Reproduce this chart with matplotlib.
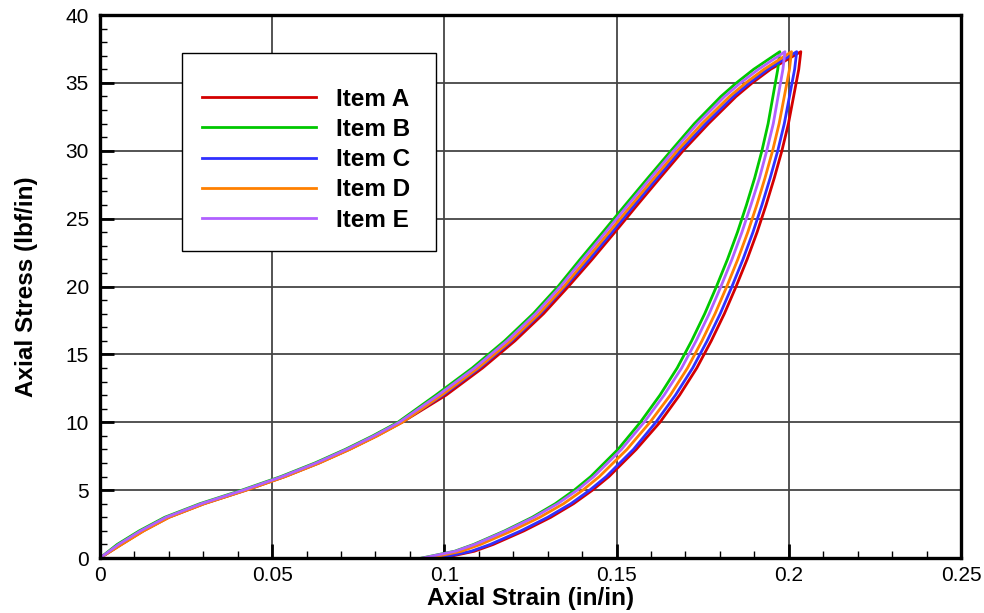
import numpy as np
import matplotlib
matplotlib.use("Agg")
import matplotlib.pyplot as plt
from matplotlib.ticker import MultipleLocator, FormatStrFormatter
from matplotlib.patches import Rectangle

plt.rcParams['font.family'] = ['Liberation Sans', 'DejaVu Sans']

labels = ["Item A", "Item B", "Item C", "Item D", "Item E"]
colors = ["#d40000", "#00c800", "#3030ff", "#ff8000", "#b060ff"]

# loading branch: shared stress levels (lbf/in), strain per item (in/in)
load_stress = [0, 1, 2, 3, 4, 5, 6, 7, 8, 9, 10, 12, 14, 16, 18, 20, 22, 24,
               26, 28, 30, 32, 34, 35, 36, 37.3]
load_a = [0, 0.0062, 0.0126, 0.0200, 0.0302, 0.0424, 0.0537, 0.0636, 0.0724,
          0.0804, 0.0877, 0.1005, 0.1111, 0.1205, 0.1288, 0.1360, 0.1429,
          0.1495, 0.1560, 0.1626, 0.1693, 0.1767, 0.1847, 0.1894, 0.1947, 0.2035]
load_b = [0, 0.0050, 0.0114, 0.0188, 0.0290, 0.0412, 0.0525, 0.0624, 0.0712,
          0.0792, 0.0865, 0.0975, 0.1081, 0.1175, 0.1258, 0.1330, 0.1394,
          0.1460, 0.1525, 0.1591, 0.1658, 0.1726, 0.1803, 0.1848, 0.1898, 0.1974]
load_c = [0, 0.0060, 0.0124, 0.0198, 0.0300, 0.0422, 0.0535, 0.0634, 0.0722,
          0.0802, 0.0875, 0.0996, 0.1102, 0.1196, 0.1279, 0.1351, 0.1421,
          0.1487, 0.1552, 0.1618, 0.1685, 0.1759, 0.1839, 0.1886, 0.1939, 0.2023]
load_d = [0, 0.0063, 0.0127, 0.0201, 0.0303, 0.0425, 0.0538, 0.0637, 0.0725,
          0.0805, 0.0878, 0.0992, 0.1098, 0.1192, 0.1275, 0.1347, 0.1412,
          0.1478, 0.1543, 0.1609, 0.1676, 0.1748, 0.1828, 0.1875, 0.1928, 0.2008]
load_e = [0, 0.0054, 0.0118, 0.0192, 0.0294, 0.0416, 0.0529, 0.0628, 0.0716,
          0.0796, 0.0869, 0.0982, 0.1088, 0.1182, 0.1265, 0.1337, 0.1402,
          0.1468, 0.1533, 0.1599, 0.1666, 0.1735, 0.1814, 0.1860, 0.1912, 0.1989]

# unloading branch
unload_stress = [37.3, 36, 34, 32, 30, 28, 26, 24, 22, 20, 18, 16, 14, 12, 10,
                 8, 6, 5, 4, 3, 2, 1, 0.5, 0]
unload_a = [0.2035, 0.2029, 0.2014, 0.1999, 0.1980, 0.1958, 0.1934, 0.1908,
            0.1879, 0.1847, 0.1813, 0.1775, 0.1733, 0.1683, 0.1626, 0.1557,
            0.1478, 0.1430, 0.1375, 0.1309, 0.1231, 0.1142, 0.1087, 0.0995]
unload_b = [0.1974, 0.1968, 0.1954, 0.1940, 0.1922, 0.1901, 0.1877, 0.1851,
            0.1822, 0.1790, 0.1756, 0.1718, 0.1676, 0.1626, 0.1569, 0.1504,
            0.1425, 0.1377, 0.1322, 0.1255, 0.1175, 0.1085, 0.1030, 0.0935]
unload_c = [0.2023, 0.2017, 0.2002, 0.1987, 0.1968, 0.1946, 0.1922, 0.1896,
            0.1867, 0.1835, 0.1801, 0.1763, 0.1721, 0.1671, 0.1614, 0.1549,
            0.1470, 0.1422, 0.1367, 0.1300, 0.1222, 0.1133, 0.1078, 0.0985]
unload_d = [0.2008, 0.2002, 0.1987, 0.1972, 0.1953, 0.1931, 0.1907, 0.1881,
            0.1852, 0.1820, 0.1786, 0.1748, 0.1706, 0.1656, 0.1597, 0.1530,
            0.1450, 0.1402, 0.1346, 0.1277, 0.1196, 0.1105, 0.1050, 0.0955]
unload_e = [0.1989, 0.1983, 0.1969, 0.1955, 0.1936, 0.1915, 0.1890, 0.1864,
            0.1835, 0.1803, 0.1769, 0.1731, 0.1689, 0.1638, 0.1580, 0.1514,
            0.1434, 0.1386, 0.1329, 0.1260, 0.1179, 0.1088, 0.1032, 0.0937]

loads = [load_a, load_b, load_c, load_d, load_e]
unloads = [unload_a, unload_b, unload_c, unload_d, unload_e]

fig = plt.figure(figsize=(9.84, 6.13), dpi=100)
ax = fig.add_axes([0.1016, 0.0897, 0.875, 0.8858])

for lab, col, ld, ul in zip(labels, colors, loads, unloads):
    strain = np.concatenate([ld, ul])
    stress = np.concatenate([load_stress, unload_stress])
    ax.plot(strain, stress, color=col, lw=2.0, label=lab,
            solid_joinstyle='round')

ax.set_xlim(0, 0.25)
ax.set_ylim(0, 40)
ax.xaxis.set_major_locator(MultipleLocator(0.05))
ax.xaxis.set_minor_locator(MultipleLocator(0.01))
ax.yaxis.set_major_locator(MultipleLocator(5))
ax.yaxis.set_minor_locator(MultipleLocator(1))
ax.xaxis.set_major_formatter(FormatStrFormatter('%g'))

ax.grid(True, which='major', color='#454545', lw=1.3)
ax.set_axisbelow(True)
ax.tick_params(which='major', direction='in', length=10, width=2.0,
               labelsize=15, pad=6)
ax.tick_params(which='minor', direction='in', length=5, width=1.0)
ax.tick_params(axis='y', which='major', pad=8)
for sp in ax.spines.values():
    sp.set_linewidth(2.4)

ax.set_xlabel("Axial Strain (in/in)", fontsize=17.5, fontweight='bold', labelpad=1)
ax.set_ylabel("Axial Stress (lbf/in)", fontsize=17.5, fontweight='bold', labelpad=20)

# legend box
ax.add_patch(Rectangle((0.095, 0.566), 0.295, 0.364, transform=ax.transAxes,
                       facecolor='white', edgecolor='black', lw=1.0, zorder=4))
leg = ax.legend(loc='upper left', bbox_to_anchor=(0.1185, 0.8665), frameon=False,
                borderpad=0, borderaxespad=0, handlelength=4.7, handletextpad=0.82,
                labelspacing=0.3, prop={'weight': 'bold', 'size': 17.5})
leg.set_zorder(5)

fig.savefig("out.png", dpi=100)
